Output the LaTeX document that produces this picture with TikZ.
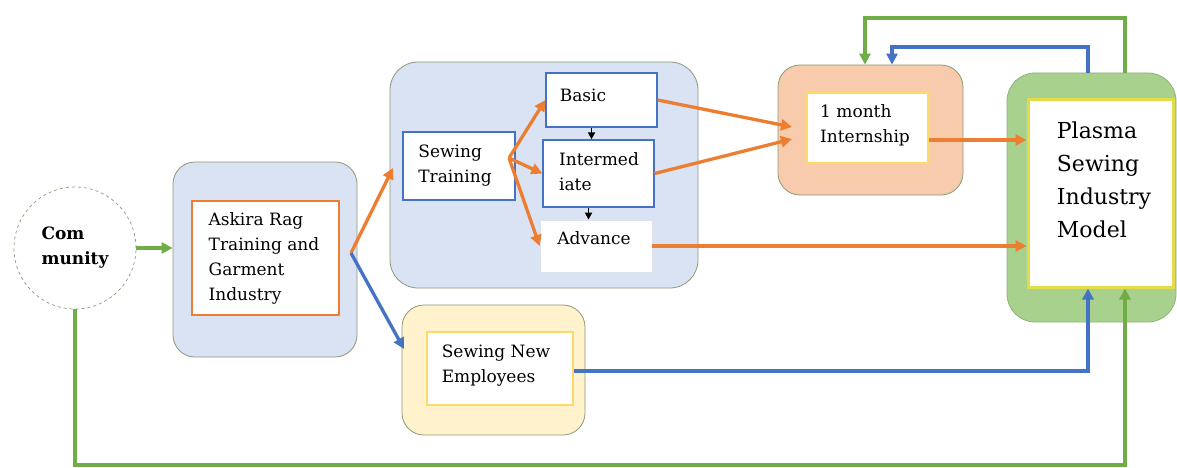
\documentclass[tikz,border=0pt]{standalone}
\usepackage{fontspec}
\setmainfont{DejaVu Serif}
\usetikzlibrary{fit,arrows.meta}
\definecolor{cOr}{HTML}{ED7D31}
\definecolor{cBl}{HTML}{4472C4}
\definecolor{cGr}{HTML}{70AD47}
\definecolor{fBl}{HTML}{DAE3F3}
\definecolor{fYe}{HTML}{FFF2CC}
\definecolor{fPe}{HTML}{F8CBAD}
\definecolor{fGr}{HTML}{A9D18E}
\definecolor{bdr}{HTML}{8C9A78}
\definecolor{yel}{HTML}{FFD966}
\definecolor{yelg}{HTML}{E2DC4A}
\definecolor{lgr}{HTML}{DCE3EC}
\begin{document}
\begin{tikzpicture}[x=1pt,y=-1pt,
  obox/.style={draw=bdr, line width=0.8pt, rounded corners=22pt, inner sep=0pt},
  ibox/.style={fill=white, inner sep=0pt, line width=1.3pt},
  txt/.style={align=left, inner sep=0pt, font=\fontsize{17}{25}\selectfont},
  arr/.style={line width=3.3pt, -{Triangle[length=11pt,width=11pt]}},
  blk/.style={line width=1.8pt, -{Triangle[length=7pt,width=7pt]}}
]
\useasboundingbox (0,0) rectangle (1177,468);
\fill[white] (0,0) rectangle (1177,468);

% outer boxes
\node[obox, fill=fBl, fit={(173,162)(357,357)}] (askO) {};
\node[obox, fill=fBl, rounded corners=28pt, fit={(390,62)(698,288)}] (trO) {};
\node[obox, fill=fYe, fit={(402,305)(585,435)}] (snO) {};
\node[obox, fill=fPe, fit={(778,65)(963,195)}] (intO) {};
\node[obox, fill=fGr, draw=fGr!85!black, rounded corners=28pt, fit={(1007,73)(1176,322)}] (plO) {};

% community
\node[circle, draw=bdr, dashed, line width=0.7pt, fill=white, minimum size=122pt, inner sep=0pt,
      align=left, font=\bfseries\fontsize{17}{25}\selectfont] (comm) at (75,248) {Com\\munity};

% inner boxes
\node[ibox, draw=cOr, fit={(192,201)(339,315)}] (askI) {};
\node[ibox, draw=cBl, fit={(403,132)(515,200)}] (sewT) {};
\node[ibox, draw=cBl, fit={(546,73)(657,127)}] (basic) {};
\node[ibox, draw=cBl, fit={(543,140)(654,207)}] (inter) {};
\node[ibox, draw=lgr, line width=0.8pt, fit={(540,220)(652,272)}] (adv) {};
\node[ibox, draw=yel, line width=2pt, fit={(427,332)(573,405)}] (snI) {};
\node[ibox, draw=yel, line width=2pt, fit={(807,93)(928,163)}] (intI) {};
\node[ibox, draw=yelg, line width=3pt, fit={(1028,100)(1173,287)}] (plI) {};

% texts
\node[txt] (tAsk) at (264,258) {Askira Rag\\Training and\\Garment\\Industry};
\node[txt] (tSew) at (455,166) {Sewing\\Training};
\node[txt] (tBas) at (583,95) {Basic};
\node[txt] (tInt) at (599,172) {Intermed\\iate};
\node[txt] (tAdv) at (594,238) {Advance};
\node[txt] (tSN) at (496,366) {Sewing New\\Employees};
\node[txt] (tIn) at (865,125) {1 month\\Internship};
\node[txt, font=\fontsize{22}{33}\selectfont] (tPl) at (1104,180) {Plasma\\Sewing\\Industry\\Model};

% coordinates
\coordinate (split) at (351,253);
\coordinate (toTr) at (393,168);
\coordinate (toSN) at (404,349);
\coordinate (stO) at (509,158);
\coordinate (tA) at (792,127);
\coordinate (tB) at (792,139);
\coordinate (gb) at (1125,465);
\coordinate (bc) at (1088,371);
\coordinate (bf1) at (1088,47);
\coordinate (bf2) at (892,47);
\coordinate (gf1) at (1125,18);
\coordinate (gf2) at (865,18);

% connectors
\draw[arr, cGr] (comm.east) -- (comm.east -| askO.west);
\draw[arr, cOr] (split) -- (toTr);
\draw[arr, cBl] (split) -- (toSN);
\draw[arr, cOr] (stO) -- (basic.west);
\draw[arr, cOr] (stO) -- (inter.west);
\draw[arr, cOr] (stO) -- (adv.west);
\draw[blk] ([xshift=-10pt]basic.south) -- ([xshift=-10pt]basic.south |- inter.north);
\draw[blk] ([xshift=-10pt]inter.south) -- ([xshift=-10pt]inter.south |- adv.north);
\draw[arr, cOr] (basic.east) -- (tA);
\draw[arr, cOr] (inter.east) -- (tB);
\draw[arr, cOr] ([yshift=-12pt]intI.east) -- ([yshift=-12pt]intI.east -| plI.west);
\draw[arr, cOr] (adv.east) -- (adv.east -| plI.west);
\draw[arr, cBl] (snI.east |- bc) -- (bc) -- (bc |- plI.south);
\draw[arr, cGr, line width=3.8pt] (comm.south) -- (comm.south |- gb) -- (gb) -- (gb |- plI.south);
\draw[arr, cBl, line width=3.8pt] (bf1 |- plO.north) -- (bf1) -- (bf2) -- (bf2 |- intO.north);
\draw[arr, cGr, line width=3.8pt] (gf1 |- plO.north) -- (gf1) -- (gf2) -- (gf2 |- intO.north);
\end{tikzpicture}
\end{document}
